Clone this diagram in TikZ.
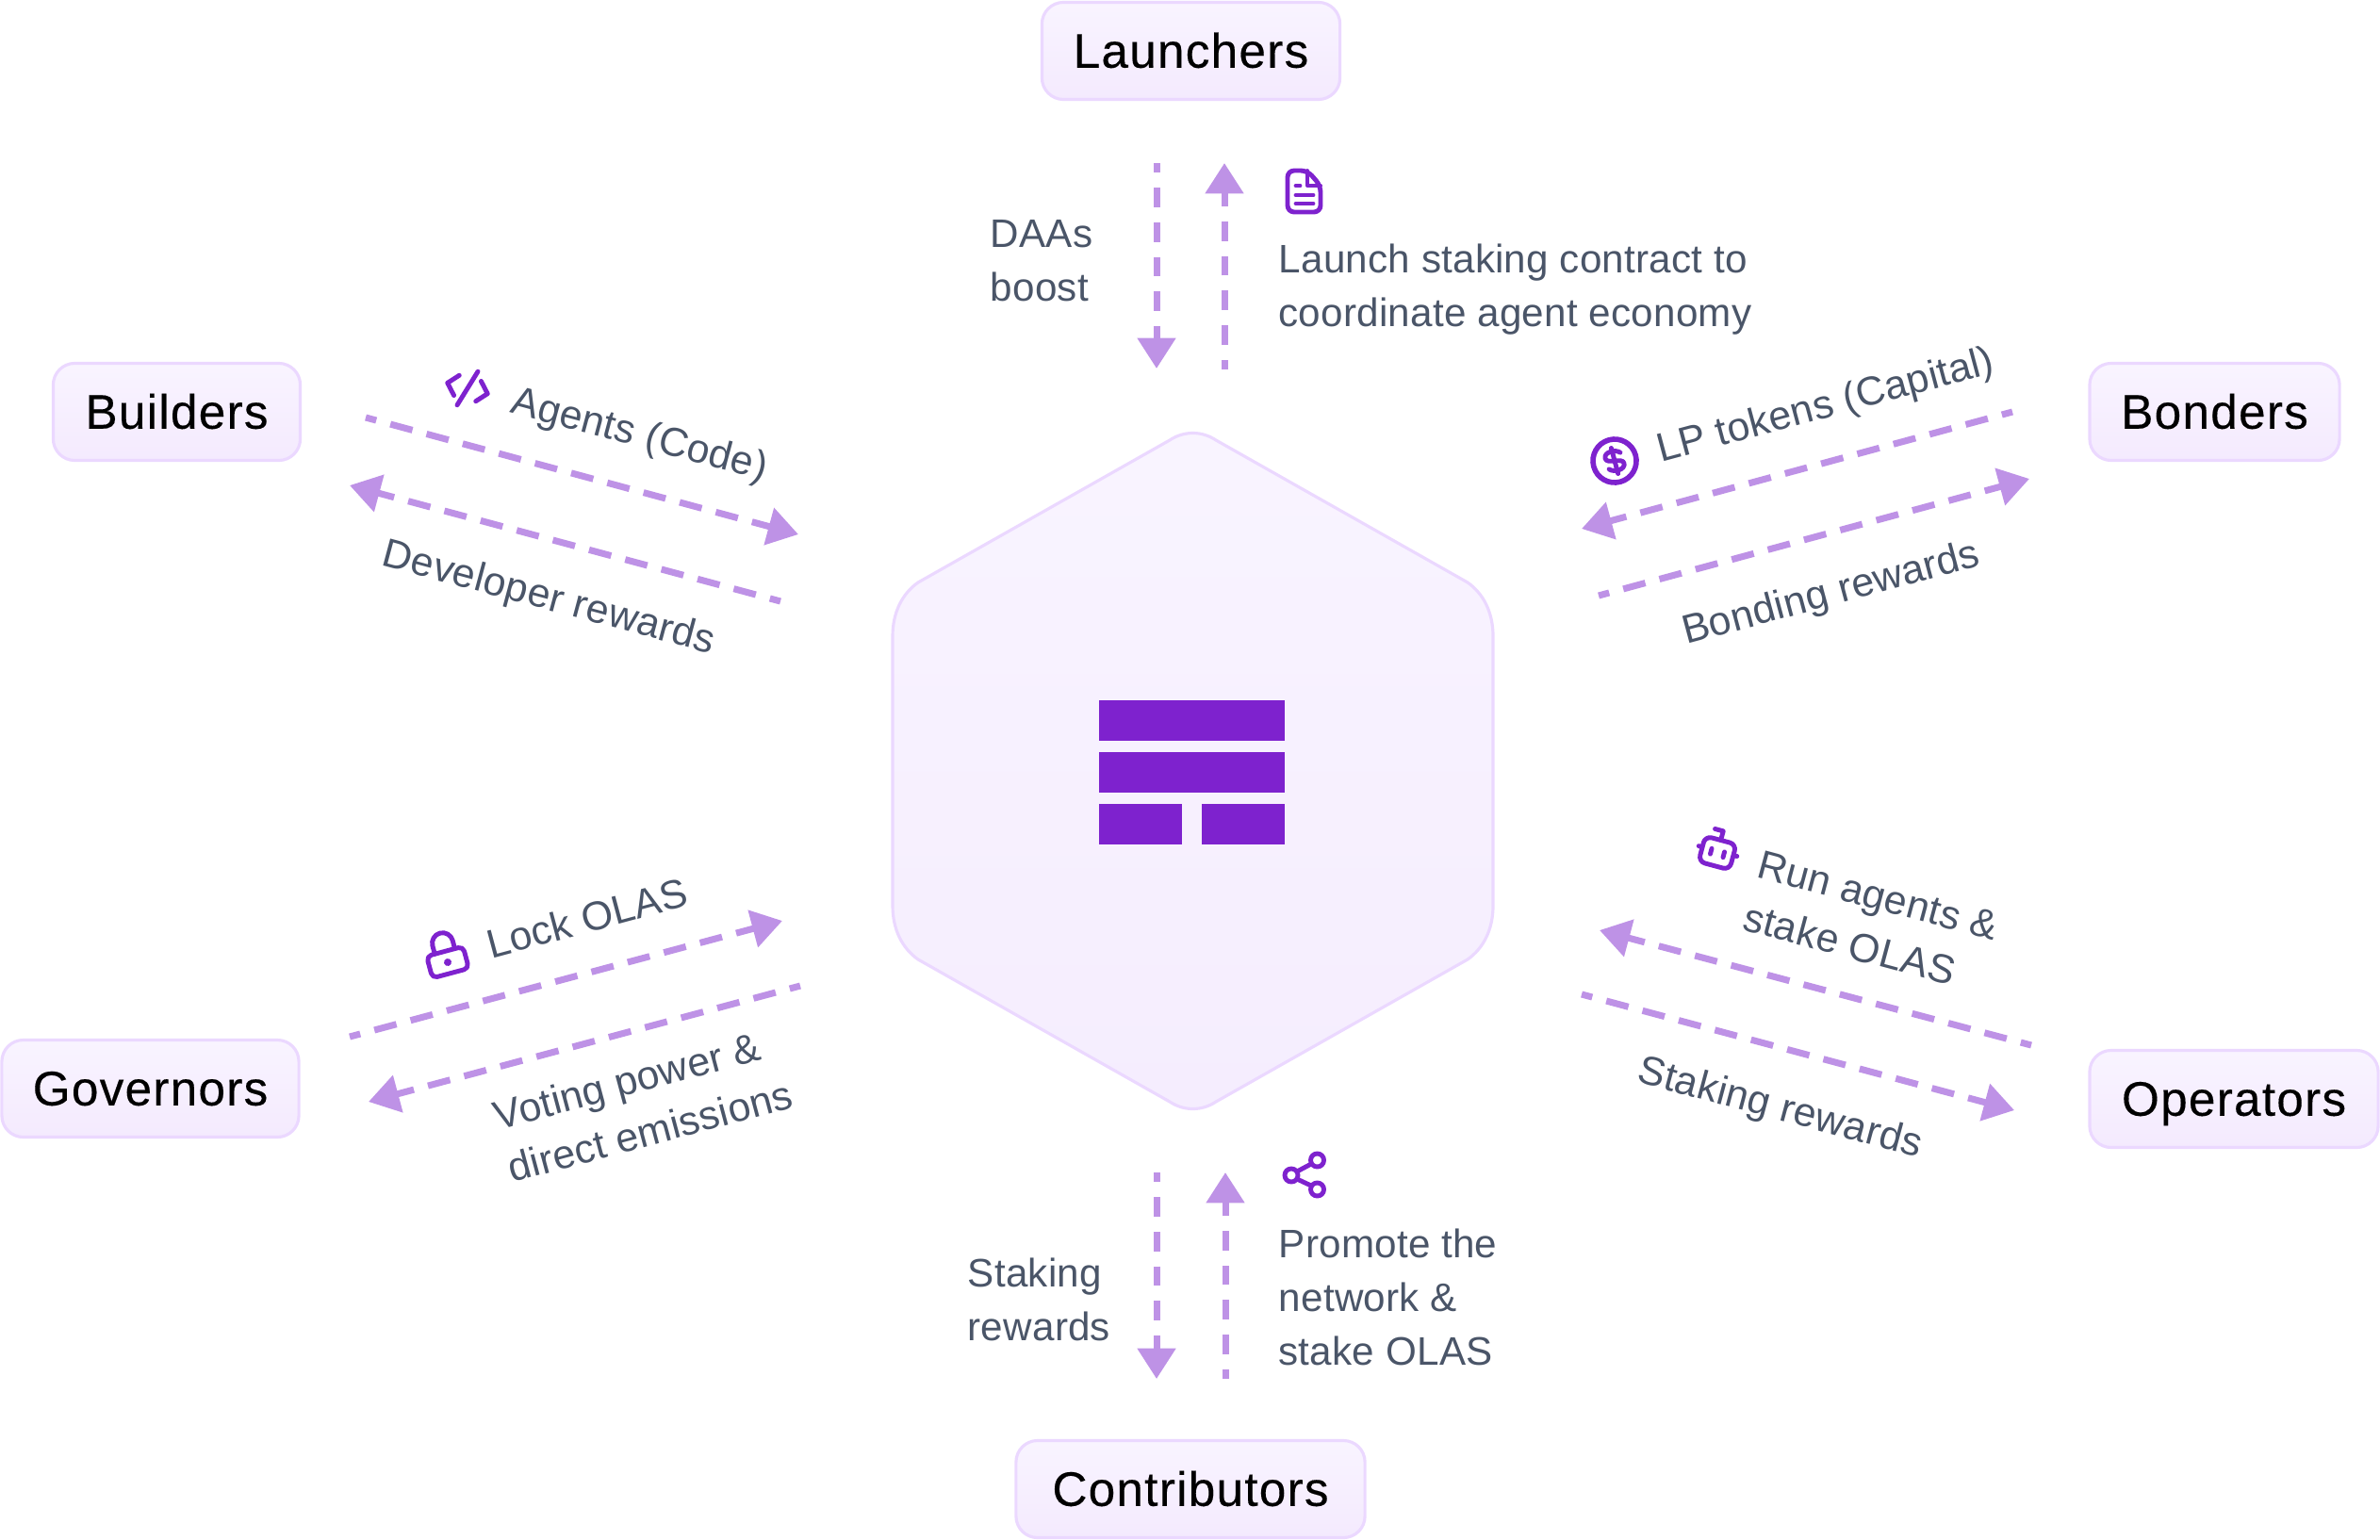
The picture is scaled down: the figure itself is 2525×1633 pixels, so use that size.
\documentclass[tikz,border=0pt]{standalone}
\usepackage{fontspec}
\setmainfont[LetterSpace=0.5]{Liberation Sans}
\newfontfamily\actorfont[LetterSpace=2.4,FakeBold=0.25]{Liberation Sans}
\usepackage{xcolor}
\usetikzlibrary{positioning,arrows.meta}
\definecolor{olasline}{HTML}{EBD8FF}
\definecolor{olastop}{HTML}{F9F4FF}
\definecolor{olasbot}{HTML}{F4EAFE}
\definecolor{olashex}{HTML}{F5EDFE}
\definecolor{olasflow}{HTML}{BE92E6}
\definecolor{olasicon}{HTML}{7E22CE}
\definecolor{olastext}{HTML}{4A5568}
\begin{document}
\begin{tikzpicture}[
  x=0.01cm,y=-0.01cm,
  every node/.style={font=\fontsize{12}{16.2}\selectfont,text=olastext,align=left,inner sep=0pt},
  tilted/.style={font=\fontsize{12.2}{16.4}\selectfont},
  actor/.style={rectangle,rounded corners=6.5pt,draw=olasline,line width=0.9pt,top color=olastop,bottom color=olasbot,
    minimum height=1.03cm,text height=12pt,text depth=1.9pt,align=center,text=black,font=\actorfont\fontsize{14.6}{16}\selectfont},
  flow/.style={olasflow,line width=2pt,-{Triangle[length=9.2pt,width=11.2pt]},dash pattern=on 6.9pt off 4.4pt,dash phase=3.6pt},
  flowv/.style={olasflow,line width=2pt,-{Triangle[length=9.2pt,width=11.2pt]},dash pattern=on 5.9pt off 4.55pt,dash phase=3pt},
  icon/.style={olasicon,line width=1.4pt,line cap=round,line join=round}
]
  \useasboundingbox (0,0) rectangle (2525,1633);
  \draw[olasline,line width=0.9pt,top color=olastop,bottom color=olashex]
    (1241,467) .. controls (1256,457) and (1275,457) .. (1290,467)
    -- (1557,618) .. controls (1574,630) and (1584,650) .. (1584,675)
    -- (1584,961) .. controls (1584,986) and (1574,1006) .. (1557,1018)
    -- (1290,1169) .. controls (1275,1179) and (1256,1179) .. (1241,1169)
    -- (974,1018) .. controls (957,1006) and (947,986) .. (947,961)
    -- (947,675) .. controls (947,650) and (957,630) .. (974,618) -- cycle;
  \fill[olasicon] (1166,743) rectangle (1363,786);
  \fill[olasicon] (1166,798) rectangle (1363,841);
  \fill[olasicon] (1166,853) rectangle (1254,896);
  \fill[olasicon] (1275,853) rectangle (1363,896);

  \node[actor,minimum width=3.16cm] (launchers) at (1263.5,54) {Launchers};
  \node[actor,minimum width=2.62cm] (builders) at (187.5,437) {Builders};
  \node[actor,minimum width=2.65cm] (bonders) at (2349.5,437) {Bonders};
  \node[actor,minimum width=3.15cm] (governors) at (159.5,1155) {Governors};
  \node[actor,minimum width=3.06cm] (operators) at (2370,1166) {Operators};
  \node[actor,minimum width=3.70cm] (contributors) at (1263,1580) {Contributors};

  \foreach \name/\xa/\ya/\xb/\yb/\kind in {
    daas/1227/173/1227/391/flowv, launch/1299/392/1299/173/flowv,
    code/388/443/847/567/flow, devrew/828/638/371/515/flow,
    lp/2135/437/1678/561/flow, bondrew/1696/632/2153/508/flow,
    run/2155/1109/1697/987/flow, oprew/1678/1055/2137/1178/flow,
    lock/371/1100/830/977/flow, vote/849/1046/391/1169/flow,
    conrew/1227/1244/1227/1463/flowv, promote/1300/1463/1300/1244/flowv}{
    \coordinate (\name s) at (\xa,\ya);
    \coordinate (\name e) at (\xb,\yb);
    \draw[\kind] (\name s) -- (\name e);
  }

  \node[anchor=west] (daaslabel) at (1050,277) {DAAs\\boost};
  \node[anchor=west] (launchlabel) at (1356,307) {Launch staking contract to\\coordinate agent economy};
  \node[tilted,rotate=-15] (codelabel) at (678,463) {Agents (Code)};
  \node[tilted,rotate=-15] (devlabel) at (582,636) {Developer rewards};
  \node[tilted,rotate=15] (lplabel) at (1937,432) {LP tokens (Capital)};
  \node[tilted,rotate=15] (bondlabel) at (1943,631) {Bonding rewards};
  \node[tilted,rotate=-15] (runlabel) at (1985,978) {Run agents \&\\stake OLAS};
  \node[tilted,rotate=-15] (oplabel) at (1888,1177) {Staking rewards};
  \node[tilted,rotate=15] (locklabel) at (623,974) {Lock OLAS};
  \node[tilted,rotate=15] (votelabel) at (682,1172) {Voting power \&\\direct emissions};
  \node[anchor=west] (conlabel) at (1026,1379) {Staking\\rewards};
  \node[anchor=west] (promotelabel) at (1356,1376) {Promote the\\network \&\\stake OLAS};

  \begin{scope}
    \draw[icon,rounded corners=2pt] (1366,181) -- (1387,181) -- (1401,197) -- (1401,225) -- (1366,225) -- cycle;
    \draw[icon,line width=1.1pt] (1387,181) -- (1387,197) -- (1401,197);
    \draw[icon] (1375,197) -- (1379,197);
    \draw[icon] (1375,207) -- (1393,207);
    \draw[icon] (1375,216) -- (1393,216);
  \end{scope}
  \begin{scope}[shift={(496,412)},rotate=-15]
    \draw[icon] (-12,-11) -- (-22,0) -- (-12,11);
    \draw[icon] (12,-11) -- (22,0) -- (12,11);
    \draw[icon] (6,-20) -- (-6,20);
  \end{scope}
  \begin{scope}[shift={(1713,489)},rotate=15]
    \draw[icon,line width=1.6pt] (0,0) circle (0.23cm);
    \draw[icon] (8,-7) .. controls (4,-12) and (-9,-12) .. (-9,-5) .. controls (-9,2) and (9,-2) .. (9,5) .. controls (9,12) and (-4,12) .. (-8,7);
    \draw[icon] (0,-14) -- (0,14);
  \end{scope}
  \begin{scope}[shift={(1822,905)},rotate=-15]
    \draw[icon,rounded corners=2pt] (-17,-14) rectangle (17,14);
    \draw[icon] (0,-14) -- (0,-24) -- (-9,-24);
    \draw[icon] (-21,-2) -- (-18,-2);
    \draw[icon] (18,-2) -- (21,-2);
    \draw[icon] (-7,-3) -- (-7,3);
    \draw[icon] (7,-3) -- (7,3);
  \end{scope}
  \begin{scope}[shift={(475,1021)},rotate=15]
    \draw[icon,rounded corners=1.5pt] (-20,-12) rectangle (20,12);
    \draw[icon] (-11,-12) -- (-11,-21) arc[start angle=180,end angle=0,radius=0.11cm] -- (11,-12);
    \fill[olasicon] (0,0) circle (0.04cm);
  \end{scope}
  \begin{scope}
    \draw[icon] (1376,1243) -- (1391,1235);
    \draw[icon] (1376,1251) -- (1391,1258);
    \draw[icon] (1397.5,1231) circle (0.07cm);
    \draw[icon] (1370,1247) circle (0.07cm);
    \draw[icon] (1397.5,1262) circle (0.07cm);
  \end{scope}
\end{tikzpicture}
\end{document}
